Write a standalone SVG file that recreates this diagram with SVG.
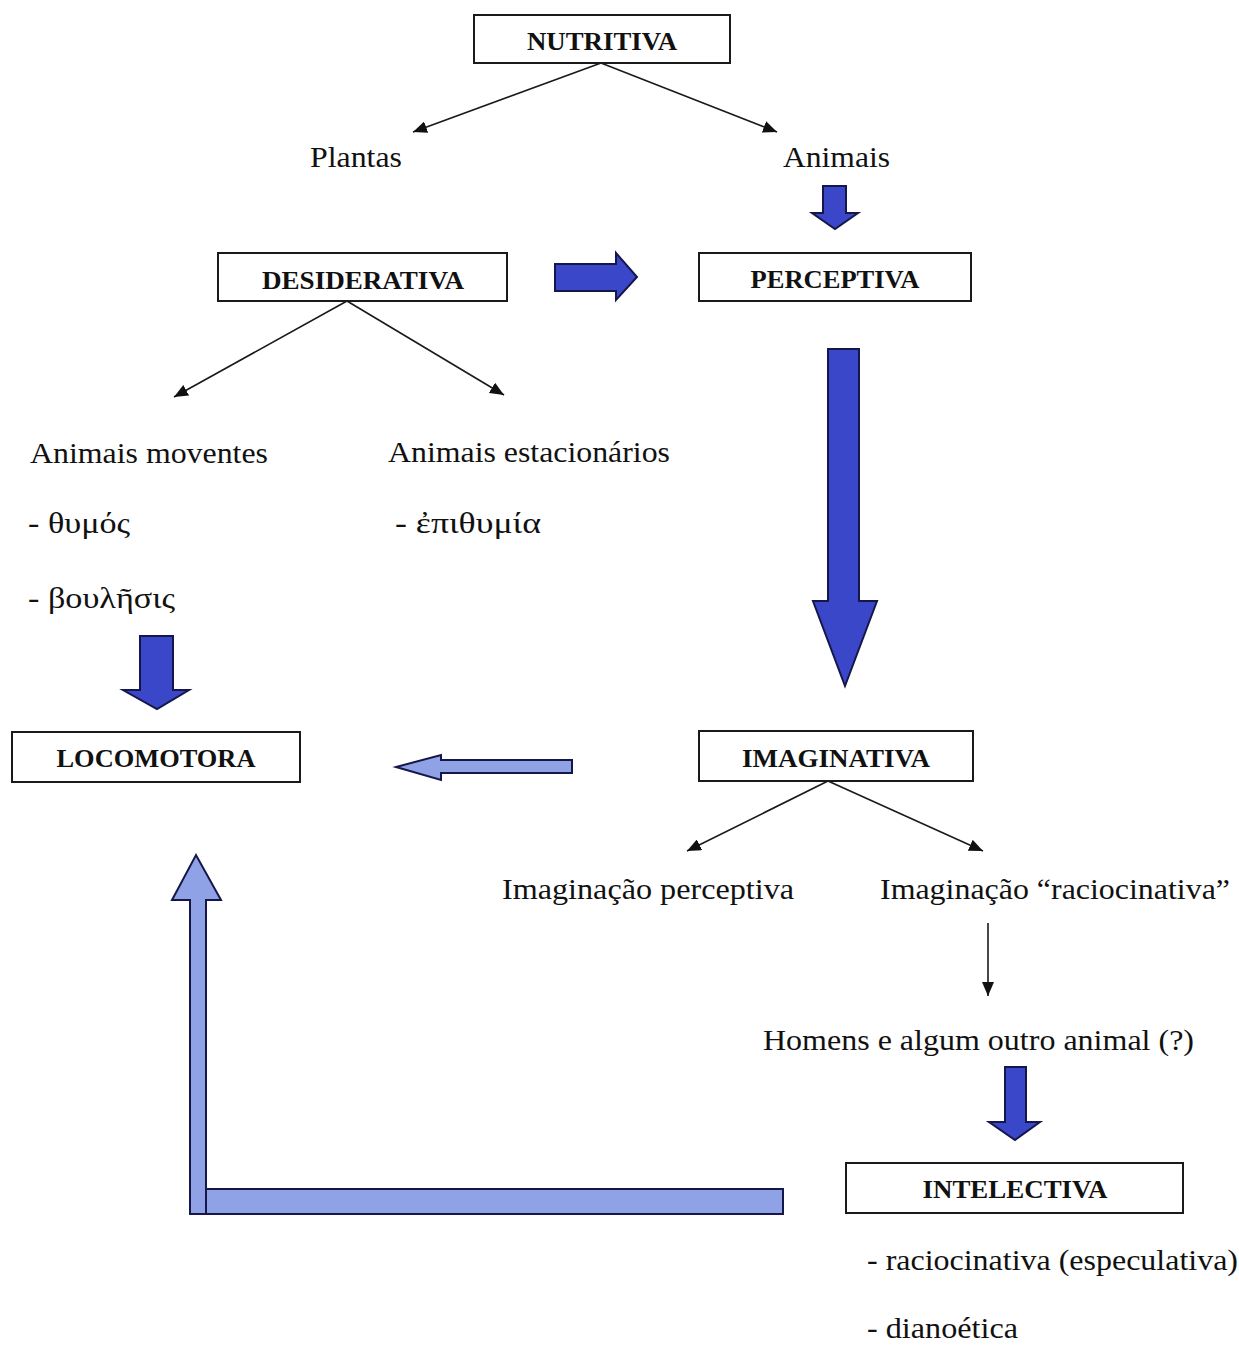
<svg xmlns="http://www.w3.org/2000/svg" width="1239" height="1346" viewBox="0 0 1239 1346">
<style>
.box{fill:#fff;stroke:#1a1a1a;stroke-width:2}
.bl{font-family:"Liberation Serif","Times New Roman",Times,serif;font-weight:bold;font-size:25px;fill:#111;text-anchor:middle}
.tx{font-family:"Liberation Serif","Times New Roman",Times,serif;font-size:30px;fill:#111}
.thin{stroke:#1a1a1a;stroke-width:1.6;fill:none;marker-end:url(#ah)}
.dark{fill:#3b47c9;stroke:#15174a;stroke-width:2;stroke-linejoin:miter}
.light{fill:#8fa2e6;stroke:#15174a;stroke-width:2;stroke-linejoin:miter}
</style>
<defs>
<marker id="ah" markerUnits="userSpaceOnUse" markerWidth="16" markerHeight="12" refX="14" refY="6" orient="auto">
<path d="M0,0 L14,6 L0,12 Z" fill="#111"/>
</marker>
</defs>
<rect width="1239" height="1346" fill="#fff"/>

<g id="connectors">
<line class="thin" x1="601" y1="63" x2="413" y2="132"/>
<line class="thin" x1="601" y1="63" x2="777" y2="132"/>
<line class="thin" x1="347" y1="301" x2="174" y2="397"/>
<line class="thin" x1="347" y1="301" x2="504" y2="395"/>
<line class="thin" x1="828" y1="781" x2="687" y2="851"/>
<line class="thin" x1="828" y1="781" x2="983" y2="851"/>
<line class="thin" x1="988" y1="923" x2="988" y2="996"/>
<path class="dark" d="M823,186 H846 V213 H858 L835,229 L812,213 H823 Z"/>
<path class="dark" d="M555,264 H616 V253 L637,277 L616,300 V291 H555 Z"/>
<path class="dark" d="M828,349 H859 V601 H877 L845,686 L813,601 H828 Z"/>
<path class="dark" d="M140,636 H173 V690 H189 L157,709 L123,690 H140 Z"/>
<path class="dark" d="M1005,1067 H1026 V1122 H1040 L1015,1140 L989,1122 H1005 Z"/>
<path class="light" d="M572,760 V773 H441 V780 L396,767 L441,755 V760 Z"/>
<path class="light" d="M190,1214 V900 H172 L196,855 L221,900 H206 V1214 Z"/>
<rect class="light" x="206" y="1189" width="577" height="25"/>
</g>

<g id="nutritiva">
<rect class="box" x="474" y="15" width="256" height="48"/>
<text class="bl" x="602" y="50" textLength="150" lengthAdjust="spacingAndGlyphs">NUTRITIVA</text>
</g>
<g id="plantas"><text class="tx" x="310" y="167" textLength="92" lengthAdjust="spacingAndGlyphs">Plantas</text></g>
<g id="animais"><text class="tx" x="783" y="167" textLength="107" lengthAdjust="spacingAndGlyphs">Animais</text></g>

<g id="desiderativa">
<rect class="box" x="218" y="253" width="289" height="48"/>
<text class="bl" x="363" y="289" style="font-size:26px" textLength="202" lengthAdjust="spacingAndGlyphs">DESIDERATIVA</text>
</g>
<g id="perceptiva">
<rect class="box" x="699" y="253" width="272" height="48"/>
<text class="bl" x="835" y="288" style="font-size:26px" textLength="169" lengthAdjust="spacingAndGlyphs">PERCEPTIVA</text>
</g>

<g id="moventes">
<text class="tx" x="30" y="463" textLength="238" lengthAdjust="spacingAndGlyphs">Animais moventes</text>
<text class="tx" x="28" y="533" textLength="102" lengthAdjust="spacingAndGlyphs">- θυμός</text>
<text class="tx" x="28" y="608" textLength="147" lengthAdjust="spacingAndGlyphs">- βουλῆσις</text>
</g>
<g id="estacionarios">
<text class="tx" x="388" y="462" textLength="282" lengthAdjust="spacingAndGlyphs">Animais estacionários</text>
<text class="tx" x="395" y="533" textLength="146" lengthAdjust="spacingAndGlyphs">- ἐπιθυμία</text>
</g>

<g id="locomotora">
<rect class="box" x="12" y="732" width="288" height="50"/>
<text class="bl" x="156" y="767" textLength="199" lengthAdjust="spacingAndGlyphs">LOCOMOTORA</text>
</g>
<g id="imaginativa">
<rect class="box" x="699" y="731" width="274" height="50"/>
<text class="bl" x="836" y="767" textLength="188" lengthAdjust="spacingAndGlyphs">IMAGINATIVA</text>
</g>

<g id="imag-perceptiva"><text class="tx" x="502" y="899" textLength="292" lengthAdjust="spacingAndGlyphs">Imaginação perceptiva</text></g>
<g id="imag-raciocinativa"><text class="tx" x="880" y="899" textLength="350" lengthAdjust="spacingAndGlyphs">Imaginação “raciocinativa”</text></g>
<g id="homens"><text class="tx" x="763" y="1050" textLength="431" lengthAdjust="spacingAndGlyphs">Homens e algum outro animal (?)</text></g>

<g id="intelectiva">
<rect class="box" x="846" y="1163" width="337" height="50"/>
<text class="bl" x="1015" y="1198" textLength="185" lengthAdjust="spacingAndGlyphs">INTELECTIVA</text>
<text class="tx" x="867" y="1270" textLength="371" lengthAdjust="spacingAndGlyphs">- raciocinativa (especulativa)</text>
<text class="tx" x="867" y="1338" textLength="151" lengthAdjust="spacingAndGlyphs">- dianoética</text>
</g>
</svg>
